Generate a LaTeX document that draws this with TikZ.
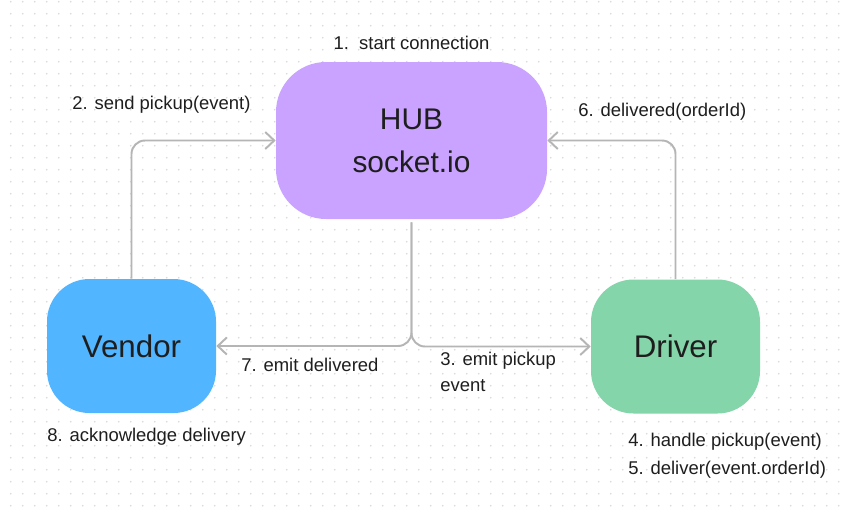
\documentclass[tikz,border=0pt]{standalone}
\usepackage{fontspec}
\setmainfont{Liberation Sans}
\usetikzlibrary{positioning,arrows.meta}
\definecolor{hubpurple}{HTML}{C9A3FF}
\definecolor{vendorblue}{HTML}{52B5FF}
\definecolor{drivergreen}{HTML}{85D5AA}
\definecolor{linegray}{HTML}{B5B5B5}
\definecolor{inkdark}{HTML}{1E1E1E}
\definecolor{dotgray}{HTML}{D8D8D8}

\begin{document}
\begin{tikzpicture}[
  box/.style={rectangle, align=center, text=inkdark, inner sep=0pt},
  hubbox/.style={box, fill=hubpurple, minimum width=5.42cm, minimum height=3.14cm, rounded corners=1cm, font=\fontsize{17}{24.5}\selectfont},
  client/.style={box, minimum width=3.38cm, minimum height=2.68cm, rounded corners=0.85cm, font=\fontsize{17.8}{20}\selectfont},
  arrow/.style={-{Straight Barb[length=1.8mm, width=3.4mm]}, draw=linegray, line width=1.1pt, rounded corners=0.27cm},
  note/.style={font=\fontsize{10.5}{15}\selectfont, text=inkdark, align=left, inner sep=0pt},
]

% === Canvas with dot grid ===
\useasboundingbox[fill=white] (0,0) rectangle (16.98,-10.24);
\foreach \i in {0,...,69}
  \foreach \j in {0,...,42}
    \fill[dotgray] (0.214+0.24*\i, -0.034-0.24*\j) circle (0.018);

% === Hub and clients ===
\node[hubbox] (hub) at (8.23, -2.81) {HUB\\socket.io};
\node[client, fill=vendorblue] (vendor) at (2.63, -6.92) {Vendor};
\node[client, fill=drivergreen] (driver) at (13.51, -6.93) {Driver};

\draw[arrow] (vendor.north) |- (hub.west);
\draw[arrow] (driver.north) |- (hub.east);
\draw[arrow, shorten <=0.06cm] (hub.south) |- (driver.west);
\draw[arrow, shorten <=0.06cm] (hub.south) |- (vendor.east);

% === Step labels ===
\node[note, above=0.24cm of hub] (start) {1.\ \ start connection};
\node[note, anchor=west] (send) at (1.44, -2.1) {2. send pickup(event)};
\node[note, anchor=west] (emitpickup) at (8.8, -7.44) {3. emit pickup\\event};
\node[note, anchor=west, font=\fontsize{10.5}{16}\selectfont] (handle) at (12.56, -9.12) {4. handle pickup(event)\\5. deliver(event.orderId)};
\node[note, anchor=west] (delivered) at (11.56, -2.24) {6. delivered(orderId)};
\node[note, anchor=west] (emitdelivered) at (4.82, -7.3) {7. emit delivered};
\node[note, anchor=west] (ack) at (0.94, -8.74) {8. acknowledge delivery};

\end{tikzpicture}
\end{document}
